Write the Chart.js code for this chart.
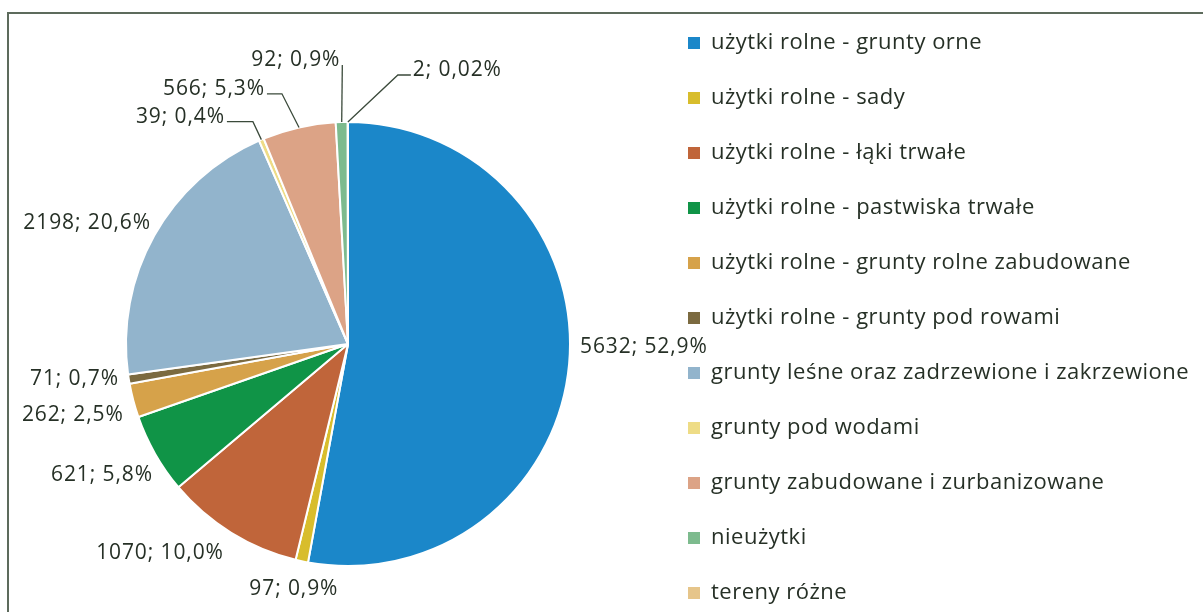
<!DOCTYPE html>
<html lang="pl">
<head>
    <meta charset="UTF-8">
    <title>Struktura użytkowania gruntów</title>
    <script src="https://cdn.jsdelivr.net/npm/chart.js"></script>
    <style>
        body {
            margin: 0;
            background: #ffffff;
            overflow: hidden;
        }
        .frame {
            position: absolute;
            left: 7px;
            top: 12px;
            width: 1300px;
            height: 700px;
            border-top: 2px solid #5d6b5c;
            border-left: 2px solid #5d6b5c;
        }
        canvas {
            position: absolute;
            left: 0;
            top: 0;
        }
    </style>
</head>
<body>

<div class="frame"></div>
<canvas id="pie" width="1203" height="612"></canvas>

<script>
    const categories = [
        'użytki rolne - grunty orne',
        'użytki rolne - sady',
        'użytki rolne - łąki trwałe',
        'użytki rolne - pastwiska trwałe',
        'użytki rolne - grunty rolne zabudowane',
        'użytki rolne - grunty pod rowami',
        'grunty leśne oraz zadrzewione i zakrzewione',
        'grunty pod wodami',
        'grunty zabudowane i zurbanizowane',
        'nieużytki',
        'tereny różne'
    ];
    const areas = [5632, 97, 1070, 621, 262, 71, 2198, 39, 566, 92, 2];

    const colors = ['#1b87c9', '#d8bd2c', '#c0653a', '#109447', '#d6a24a', '#7b6a40',
                    '#92b4cc', '#eedc86', '#dca386', '#7dbb8e', '#e6c58a'];

    // label placement: text alignment, nudge from the default spot, leader stub (null = no leader)
    const labelAlign = ['left', 'center', 'right', 'right', 'right', 'right', 'right', 'right', 'right', 'right', 'left'];
    const labelNudge = [[-3, -18], [-5, 14], [0, 8], [10, 14], [4, 11], [4, -2], [9, -6],
                        [-31, -10], [-31, -25], [-1, -48], [65, -38]];
    const leaderStub = [null, null, null, null, null, null, null, 26, 15, 0, 13];

    const textColor = '#263026';
    const total = areas.reduce((a, b) => a + b, 0);

    function pctText(v) {
        const p = v / total * 100;
        return (p < 0.1 ? p.toFixed(2) : p.toFixed(1)).replace('.', ',') + '%';
    }

    const sliceLabels = {
        id: 'sliceLabels',
        afterDatasetsDraw(chart) {
            const ctx = chart.ctx;
            const meta = chart.getDatasetMeta(0);
            ctx.save();
            ctx.font = '21px "Open Sans"';
            ctx.letterSpacing = '0.9px';
            ctx.fillStyle = textColor;
            ctx.strokeStyle = '#3b4a3b';
            ctx.lineWidth = 1.3;
            ctx.textBaseline = 'middle';
            meta.data.forEach((arc, i) => {
                const p = arc.getProps(['x', 'y', 'startAngle', 'endAngle', 'outerRadius'], true);
                const mid = (p.startAngle + p.endAngle) / 2;
                const d = p.outerRadius + 14;
                const x = p.x + Math.cos(mid) * d + labelNudge[i][0];
                const y = p.y + Math.sin(mid) * d + labelNudge[i][1];
                const text = areas[i] + '; ' + pctText(areas[i]);
                ctx.textAlign = labelAlign[i];
                ctx.fillText(text, x, y);

                if (leaderStub[i] !== null) {
                    const dir = labelAlign[i] === 'left' ? -1 : 1;
                    const x0 = x + dir * 2;
                    const y0 = y + 5;
                    const x1 = x0 + dir * leaderStub[i];
                    const ex = p.x + Math.cos(mid) * p.outerRadius;
                    const ey = p.y + Math.sin(mid) * p.outerRadius;
                    ctx.beginPath();
                    ctx.moveTo(x0, y0);
                    ctx.lineTo(x1, y0);
                    ctx.lineTo(ex, ey);
                    ctx.stroke();
                }
            });
            ctx.restore();
        }
    };

    const sideLegend = {
        id: 'sideLegend',
        afterDraw(chart) {
            const ctx = chart.ctx;
            const ds = chart.data.datasets[0];
            ctx.save();
            ctx.font = '22px "Open Sans"';
            ctx.letterSpacing = '0.5px';
            ctx.textBaseline = 'middle';
            ctx.textAlign = 'left';
            chart.data.labels.forEach((label, i) => {
                const cy = 43 + i * 55;
                ctx.fillStyle = ds.backgroundColor[i];
                ctx.fillRect(688, cy - 6, 12, 12);
                ctx.fillStyle = textColor;
                ctx.fillText(label, 711, cy);
            });
            ctx.restore();
        }
    };

    new Chart(document.getElementById('pie'), {
        type: 'pie',
        data: {
            labels: categories,
            datasets: [{
                data: areas,
                backgroundColor: colors,
                borderColor: '#ffffff',
                borderWidth: 2,
                radius: 222
            }]
        },
        options: {
            responsive: false,
            animation: false,
            layout: {
                padding: { left: 0, right: 507, top: 76, bottom: 0 }
            },
            plugins: {
                legend: { display: false },
                tooltip: { enabled: false }
            }
        },
        plugins: [sliceLabels, sideLegend]
    });
</script>

</body>
</html>
